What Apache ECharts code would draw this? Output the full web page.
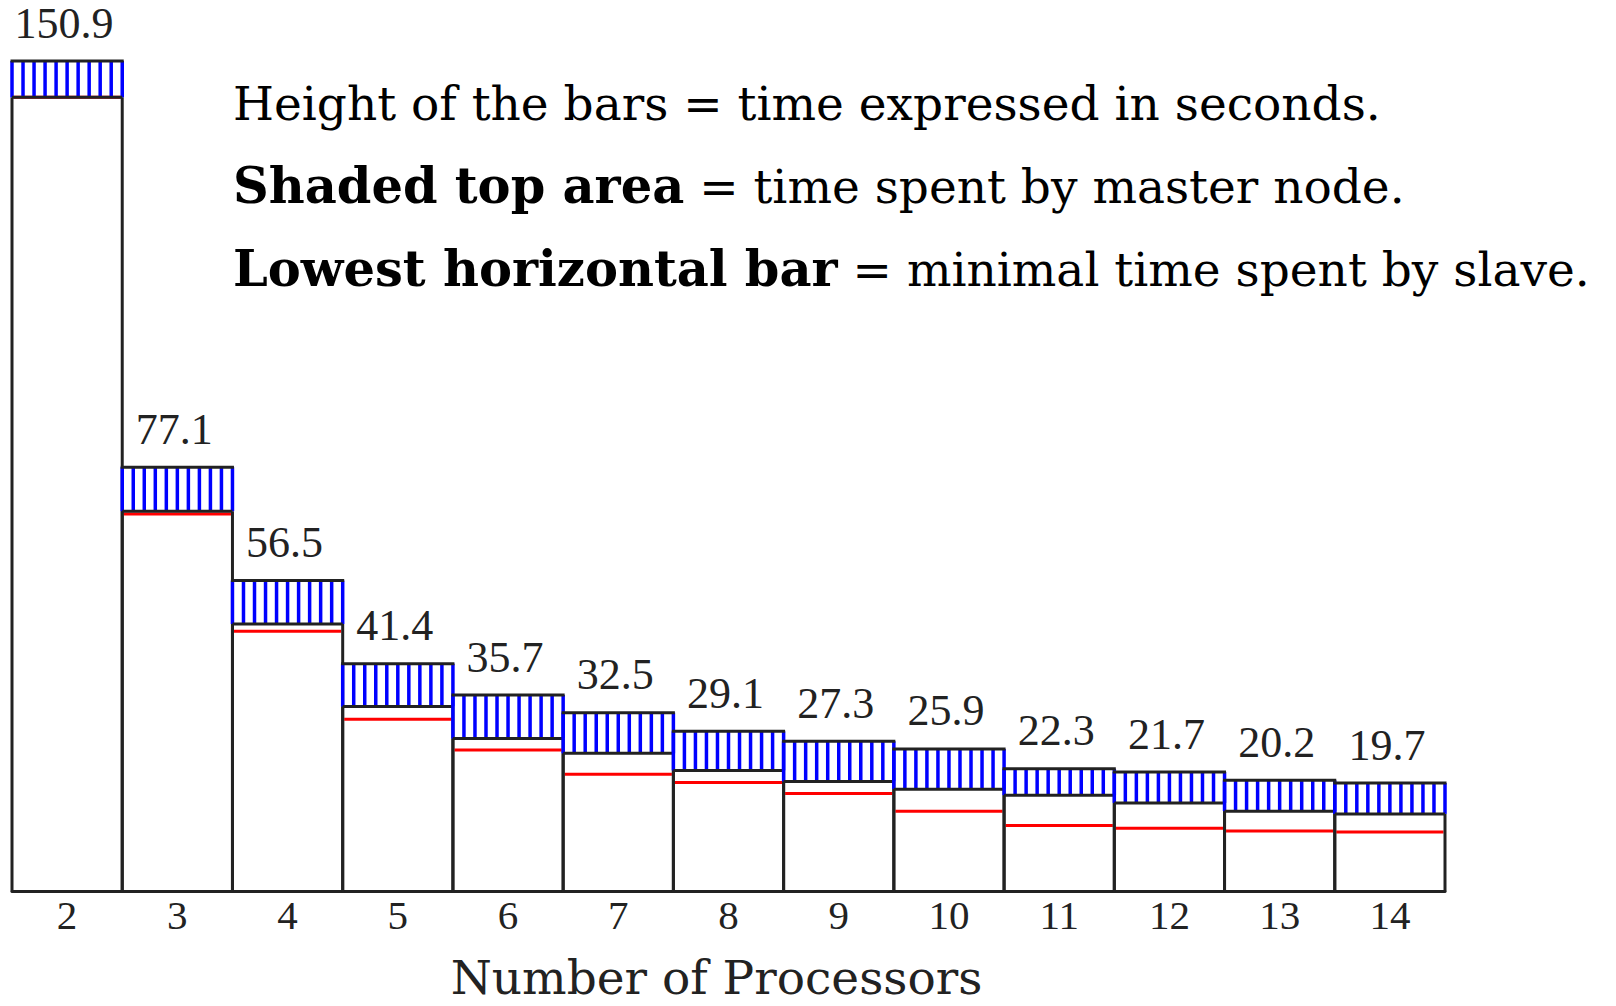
<!DOCTYPE html>
<html>
<head>
<meta charset="utf-8">
<script src="https://cdn.jsdelivr.net/npm/echarts@6/dist/echarts.min.js"></script>
<style>
  html, body { margin: 0; padding: 0; background: #fff; }
  #chart { width: 1616px; height: 1006px; }
</style>
</head>
<body>
<div id="chart"></div>
<script>
// number of processors on the x axis
var processors = ["2", "3", "4", "5", "6", "7", "8", "9", "10", "11", "12", "13", "14"];
// total run time (bar height), seconds
var totalTime = [150.9, 77.1, 56.5, 41.4, 35.7, 32.5, 29.1, 27.3, 25.9, 22.3, 21.7, 20.2, 19.7];
// time spent by master node (hatched top part)
var masterTime = [6.6, 8.0, 7.9, 7.8, 7.9, 7.4, 7.1, 7.3, 7.3, 4.8, 5.6, 5.6, 5.6];
// minimal time spent by a slave (red line)
var minSlaveTime = [144.3, 68.6, 47.3, 31.3, 25.7, 21.3, 19.8, 17.8, 14.6, 12.0, 11.5, 11.0, 10.8];

var INK = "#222";
var SERIF = "'Liberation Serif', 'DejaVu Serif', serif";
var WIDE = "'DejaVu Serif', serif";

var rows = processors.map(function (p, i) {
  return [i, totalTime[i], masterTime[i], minSlaveTime[i]];
});

function renderBar(params, api) {
  var idx = api.value(0);
  var total = api.value(1);
  var master = api.value(2);
  var slave = api.value(3);
  var base = api.coord([idx, 0]);
  var top = api.coord([idx, total])[1];
  var hatchBot = api.coord([idx, total - master])[1];
  var redY = api.coord([idx, slave])[1];
  var w = api.size([1, 0])[0];
  var x0 = base[0] - w / 2;
  var x1 = base[0] + w / 2;
  var kids = [];

  // red line first so the black edge sits on top when they touch
  kids.push({
    type: "line",
    shape: { x1: x0 + 1.5, y1: redY, x2: x1 - 1.5, y2: redY },
    style: { stroke: "#ff0000", lineWidth: 3 }
  });
  // lower body sides
  kids.push({
    type: "line",
    shape: { x1: x0, y1: base[1], x2: x0, y2: hatchBot },
    style: { stroke: INK, lineWidth: 3 }
  });
  kids.push({
    type: "line",
    shape: { x1: x1, y1: base[1], x2: x1, y2: hatchBot },
    style: { stroke: INK, lineWidth: 3 }
  });
  // hatch
  for (var k = 0; k <= 10; k++) {
    var hx = x0 + (w * k) / 10;
    kids.push({
      type: "line",
      shape: { x1: hx, y1: top, x2: hx, y2: hatchBot },
      style: { stroke: "#0000ff", lineWidth: 3.5 }
    });
  }
  kids.push({
    type: "line",
    shape: { x1: x0 - 1.5, y1: top, x2: x1 + 1.5, y2: top },
    style: { stroke: INK, lineWidth: 3 }
  });
  kids.push({
    type: "line",
    shape: { x1: x0, y1: hatchBot, x2: x1, y2: hatchBot },
    style: { stroke: INK, lineWidth: 3 }
  });
  kids.push({
    type: "text",
    x: base[0] - 3,
    y: top - 38,
    style: {
      text: total.toFixed(1),
      fill: INK,
      font: "44px " + SERIF,
      align: "center",
      verticalAlign: "middle"
    }
  });
  return { type: "group", children: kids };
}

var legendStyle = {
  n: { fontFamily: WIDE, fontSize: 47, color: INK },
  b: { fontFamily: WIDE, fontSize: 49.5, fontWeight: "bold", color: "#0000ff" },
  r: { fontFamily: WIDE, fontSize: 49.5, fontWeight: "bold", color: "#ff0000" }
};

var chart = echarts.init(document.getElementById("chart"), null, { renderer: "svg" });
chart.setOption({
  animation: false,
  backgroundColor: "#fff",
  grid: { left: 12, right: 171, top: 61, bottom: 114.5, containLabel: false, outerBoundsMode: "none" },
  xAxis: {
    type: "category",
    data: processors,
    axisLine: { lineStyle: { color: INK, width: 3 } },
    axisTick: { show: false },
    axisLabel: { color: INK, fontFamily: SERIF, fontSize: 41, margin: 3 },
    name: "Number of Processors",
    nameLocation: "middle",
    nameGap: 66,
    nameTextStyle: { color: INK, fontFamily: WIDE, fontSize: 47, lineHeight: 40, padding: [0, 24, 0, 0] },
    splitLine: { show: false }
  },
  yAxis: { type: "value", min: 0, max: 150.9, show: false },
  series: [
    {
      type: "custom",
      data: rows,
      encode: { x: 0, y: 1 },
      renderItem: renderBar,
      clip: false,
      z: 1
    }
  ],
  graphic: [
    {
      type: "text", left: 233, top: 80,
      style: { text: "{n|Height of the bars = time expressed in seconds.}", rich: legendStyle }
    },
    {
      type: "text", left: 233, top: 161,
      style: { text: "{b|Shaded top area}{n| = time spent by master node.}", rich: legendStyle }
    },
    {
      type: "text", left: 233, top: 244,
      style: { text: "{r|Lowest horizontal bar}{n| = minimal time spent by slave.}", rich: legendStyle }
    }
  ]
});
</script>
</body>
</html>
